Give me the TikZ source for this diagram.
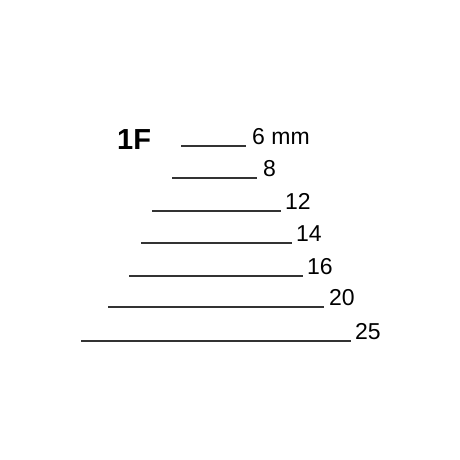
\documentclass[tikz,border=0pt]{standalone}
\usepackage{fontspec}
\setmainfont{Liberation Sans}
\usepackage{tikz}

\tikzset{
    size/.style={anchor=base west, inner sep=0pt, font=\fontsize{23}{23}\selectfont},
    edge/.style={line width=1.2pt, black!80}
}

\begin{document}
\begin{tikzpicture}[x=1pt,y=1pt]

    \useasboundingbox (0,0) rectangle (460,460);

    \node[anchor=base west, inner sep=0pt, font=\fontsize{29}{29}\selectfont\bfseries] (name) at (117,310) {1F};

    \draw[edge] (181,314) -- (246,314);
    \node[size] (w6) at (252,315) {6 mm};
    \draw[edge] (172,282) -- (257,282);
    \node[size] (w8) at (263,283) {8};
    \draw[edge] (152,249) -- (281,249);
    \node[size] (w12) at (285,250) {12};
    \draw[edge] (141,217) -- (292,217);
    \node[size] (w14) at (296,218) {14};
    \draw[edge] (129,184) -- (303,184);
    \node[size] (w16) at (307,185) {16};
    \draw[edge] (108,153) -- (324,153);
    \node[size] (w20) at (329,154) {20};
    \draw[edge] (81,119) -- (351,119);
    \node[size] (w25) at (355,120) {25};

\end{tikzpicture}
\end{document}
